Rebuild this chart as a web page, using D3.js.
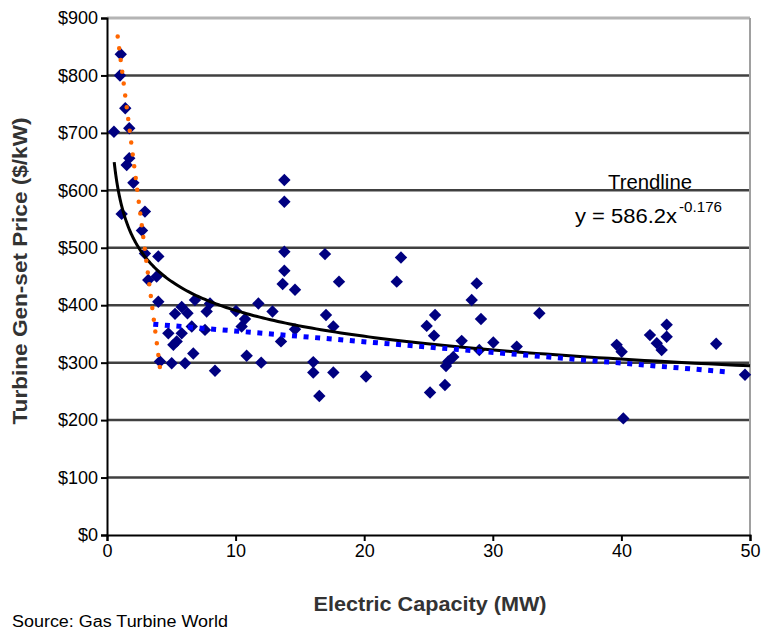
<!DOCTYPE html>
<html>
<head>
<meta charset="utf-8">
<script src="https://cdn.jsdelivr.net/npm/d3@7"></script>
<style>
  html, body { margin: 0; padding: 0; background: #fff; }
  svg { display: block; }
  text { font-family: "Liberation Sans", Arial, sans-serif; }
</style>
</head>
<body>
<svg id="chart" width="762" height="629"></svg>
<script>
// ---------------- data ----------------
const xTicks = [0, 10, 20, 30, 40, 50];
const yTicks = [0, 100, 200, 300, 400, 500, 600, 700, 800, 900];

// capacity (MW)
const capacityMW = [
  0.54, 1.01, 1.07, 1.14, 1.42, 1.53, 1.73, 1.73, 2.05, 2.72, 2.95, 2.95, 3.21, 3.86, 3.99, 3.99,
  5.81, 6.84, 8.01, 5.29, 6.26, 7.75, 4.77, 5.81, 6.59, 5.42, 5.16, 6.71, 7.62, 4.12, 5.03, 6.07, 8.40,
  10.03, 10.73, 10.47, 11.77, 12.87, 10.86, 11.99, 13.79, 13.79, 13.79, 13.79, 13.66, 14.62, 13.53, 14.62,
  16.04, 16.04, 16.51, 16.95, 17.03, 17.60, 18.04, 17.60, 20.14, 22.53, 22.86,
  24.86, 25.43, 25.51, 25.12, 26.28, 26.36, 26.54, 26.93, 27.58, 28.36, 28.75, 28.95, 29.08, 30.04,
  31.86, 33.62, 39.63, 40.02, 40.15, 42.22, 42.75, 43.13, 43.52, 43.52, 47.37, 49.61
];
// price ($/kW)
const priceKW = [
  702, 800, 837, 559, 743, 644, 656, 708, 613, 530, 563, 490, 444, 450, 485, 406,
  397, 409, 403, 385, 386, 389, 351, 351, 363, 337, 331, 316, 357, 302, 299, 299, 286,
  390, 376, 363, 403, 389, 312, 300, 618, 580, 493, 460, 437, 427, 337, 358,
  301, 283, 242, 489, 383, 363, 441, 283, 276, 441, 483,
  364, 347, 383, 248, 261, 294, 302, 310, 338, 409, 438, 322, 376, 335,
  328, 386, 331, 319, 203, 348, 334, 322, 366, 345, 333, 279
];

// power trendline shown in the chart: y = 586.2 x^-0.176
const trendA = 586.2;
const trendB = -0.176;
const trendXRange = [0.56, 50];

// dotted linear trend lines [MW, $/kW]
const smallUnitTrend = [[0.83, 868], [4.14, 287]];
const largeUnitTrend = [[3.6, 367], [48.2, 284]];

const yTickLabels = yTicks.map(v => "$" + v);
const xTickLabels = xTicks.map(String);

// ---------------- layout ----------------
const svg = d3.select("#chart");
const W = 762, H = 629;
const plot = { left: 107, right: 750, top: 18, bottom: 535 };

const x = d3.scaleLinear().domain([0, 50]).range([plot.left, plot.right]);
const y = d3.scaleLinear().domain([0, 900]).range([plot.bottom, plot.top]);

svg.append("rect").attr("width", W).attr("height", H).attr("fill", "#fff");

// gridlines
svg.append("g")
  .selectAll("line")
  .data(yTicks.filter(v => v > 0))
  .join("line")
  .attr("x1", plot.left).attr("x2", plot.right)
  .attr("y1", d => y(d)).attr("y2", d => y(d))
  .attr("stroke", d => d === 900 ? "#b4b4b4" : "#404040")
  .attr("stroke-width", d => d === 900 ? 3 : 2.5);

// right border
svg.append("line")
  .attr("x1", plot.right).attr("x2", plot.right)
  .attr("y1", plot.top).attr("y2", plot.bottom)
  .attr("stroke", "#a0a0a0").attr("stroke-width", 2);

// y axis
const yAxis = d3.axisLeft(y).tickValues(yTicks).tickFormat((d, i) => yTickLabels[i]).tickSize(6).tickPadding(3);
const gy = svg.append("g").attr("transform", `translate(${plot.left},0)`).call(yAxis);
gy.select(".domain").attr("stroke", "#000").attr("stroke-width", 2);
gy.selectAll(".tick line").attr("stroke", "#000").attr("stroke-width", 2);
gy.selectAll(".tick text").attr("font-size", 18).attr("fill", "#000")
  .attr("font-family", "'Liberation Sans', Arial, sans-serif");

// x axis
const xAxis = d3.axisBottom(x).tickValues(xTicks).tickFormat((d, i) => xTickLabels[i]).tickSize(6).tickPadding(3);
const gx = svg.append("g").attr("transform", `translate(0,${plot.bottom})`).call(xAxis);
gx.select(".domain").attr("stroke", "#000").attr("stroke-width", 2);
gx.selectAll(".tick line").attr("stroke", "#000").attr("stroke-width", 2);
gx.selectAll(".tick text").attr("font-size", 18).attr("fill", "#000")
  .attr("font-family", "'Liberation Sans', Arial, sans-serif");

// points
const pts = capacityMW.map((c, i) => ({ c, p: priceKW[i] }));
svg.append("g")
  .selectAll("path")
  .data(pts)
  .join("path")
  .attr("d", "M0,-6.2L6.2,0L0,6.2L-6.2,0Z")
  .attr("transform", d => `translate(${x(d.c)},${y(d.p)})`)
  .attr("fill", "#000080");

// power trendline
const trendX = d3.range(0, 201).map(i => trendXRange[0] * Math.pow(trendXRange[1] / trendXRange[0], i / 200));
const trendPts = trendX.map(v => [v, trendA * Math.pow(v, trendB)]);
const line = d3.line().x(d => x(d[0])).y(d => y(d[1]));
svg.append("path").datum(trendPts)
  .attr("d", line).attr("fill", "none").attr("stroke", "#000").attr("stroke-width", 3);

// blue dotted trend
svg.append("path").datum(largeUnitTrend)
  .attr("d", line).attr("fill", "none").attr("stroke", "#0000ff")
  .attr("stroke-width", 5).attr("stroke-dasharray", "5 6.6");

// orange dotted trend
svg.append("path").datum(smallUnitTrend)
  .attr("d", line).attr("fill", "none").attr("stroke", "#ff6600")
  .attr("stroke-width", 4.5).attr("stroke-linecap", "round").attr("stroke-dasharray", "0 11.9");

// trendline label
svg.append("text").attr("x", 608).attr("y", 189)
  .attr("font-size", 20).attr("textLength", 84).attr("lengthAdjust", "spacingAndGlyphs").text("Trendline");
const eq = svg.append("text").attr("x", 575).attr("y", 223).attr("font-size", 20);
eq.append("tspan").attr("textLength", 102).attr("lengthAdjust", "spacingAndGlyphs").text("y = 586.2x");
eq.append("tspan").attr("x", 679).attr("dy", -11).attr("font-size", 14)
  .attr("textLength", 43).attr("lengthAdjust", "spacingAndGlyphs").text("-0.176");

// axis titles
svg.append("text")
  .attr("x", 430).attr("y", 611).attr("text-anchor", "middle")
  .attr("font-size", 20).attr("font-weight", "bold").attr("fill", "#333")
  .attr("textLength", 233).attr("lengthAdjust", "spacingAndGlyphs")
  .text("Electric Capacity (MW)");
svg.append("text")
  .attr("transform", "translate(27,271) rotate(-90)").attr("text-anchor", "middle")
  .attr("font-size", 20).attr("font-weight", "bold").attr("fill", "#333")
  .attr("textLength", 307).attr("lengthAdjust", "spacingAndGlyphs")
  .text("Turbine Gen-set Price ($/kW)");

svg.append("text").attr("x", 12).attr("y", 627).attr("font-size", 16)
  .attr("textLength", 216).attr("lengthAdjust", "spacingAndGlyphs")
  .text("Source: Gas Turbine World");
</script>
</body>
</html>
